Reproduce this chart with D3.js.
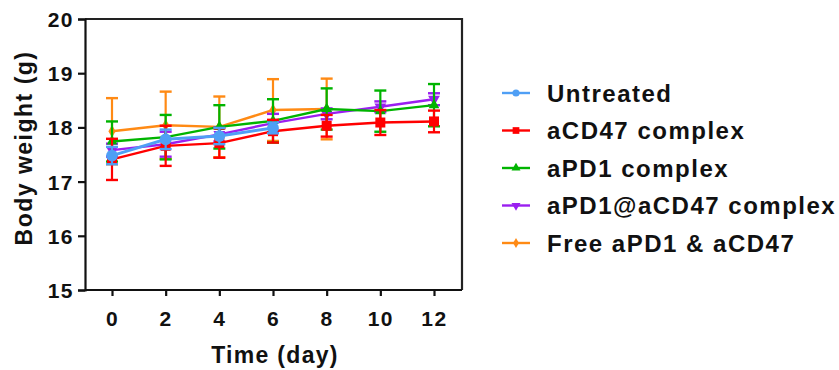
<!DOCTYPE html>
<html>
<head>
<meta charset="utf-8">
<script src="https://cdn.jsdelivr.net/npm/d3@7/dist/d3.min.js"></script>
<style>
  body { margin: 0; background: #fff; }
  text { font-family: "Liberation Sans", Arial, sans-serif; font-weight: bold; fill: #111; }
</style>
</head>
<body>
<div id="chart"></div>
<script>
// days measured
var days = [0, 2, 4, 6, 8, 10, 12];
var xTicks = [0, 2, 4, 6, 8, 10, 12];
var yTicks = [15, 16, 17, 18, 19, 20];

var seriesNames = ["Untreated", "aCD47 complex", "aPD1 complex", "aPD1@aCD47 complex", "Free aPD1 & aCD47"];
var seriesColors = ["#4f9ff5", "#ff0000", "#00b400", "#9a1ff0", "#ff8a14"];
var seriesShapes = ["circle", "square", "triangle", "down", "diamond"];

// means (null = no measurement)
var untreatedMean = [17.48, 17.78, 17.84, 17.99, null, null, null];
var acd47Mean     = [17.41, 17.66, 17.71, 17.93, 18.03, 18.09, 18.11];
var apd1Mean      = [17.74, 17.82, 18.01, 18.12, 18.34, 18.30, 18.41];
var bothMean      = [17.58, 17.69, 17.87, 18.08, 18.25, 18.38, 18.52];
var freeMean      = [17.93, 18.04, 18.01, 18.32, 18.34, null, null];

// error bars (SD)
var untreatedErr = [0.16, 0.18, 0.15, 0.10, null, null, null];
var acd47Err     = [0.38, 0.37, 0.27, 0.21, 0.20, 0.23, 0.20];
var apd1Err      = [0.37, 0.41, 0.40, 0.40, 0.38, 0.38, 0.39];
var bothErr      = [0.12, 0.23, 0.13, 0.17, 0.10, 0.10, 0.11];
var freeErr      = [0.61, 0.62, 0.56, 0.57, 0.56, null, null];

var means = [untreatedMean, acd47Mean, apd1Mean, bothMean, freeMean];
var errs = [untreatedErr, acd47Err, apd1Err, bothErr, freeErr];

var width = 839, height = 370;
var svg = d3.select("#chart").append("svg")
    .attr("width", width)
    .attr("height", height);

var pLeft = 85, pRight = 462, pTop = 19, pBottom = 290;

var x = d3.scaleLinear().domain([0, 12]).range([112, 434]);
var y = d3.scaleLinear().domain([15, 20]).range([pBottom, pTop]);

// frame (top and right lines)
svg.append("path")
    .attr("d", "M" + pLeft + "," + pTop + "H" + pRight + "V" + pBottom)
    .attr("fill", "none")
    .attr("stroke", "#222")
    .attr("stroke-width", 2.2);

// y axis
var yAxis = svg.append("g")
    .attr("transform", "translate(" + pLeft + ",0)")
    .call(d3.axisLeft(y).tickValues(yTicks).tickSize(7).tickPadding(4).tickFormat(d3.format("d")));
// x axis
var xAxis = svg.append("g")
    .attr("transform", "translate(0," + pBottom + ")")
    .call(d3.axisBottom(x).tickValues(xTicks).tickSize(6).tickPadding(15).tickFormat(d3.format("d")));
xAxis.select(".domain").attr("d", "M" + pLeft + ",0H" + pRight);

[yAxis, xAxis].forEach(function(a) {
    a.selectAll("path, line").attr("stroke", "#111").attr("stroke-width", 2.2);
    a.selectAll("text")
        .attr("font-family", "Liberation Sans, Arial, sans-serif")
        .attr("font-weight", "bold")
        .attr("font-size", "21px")
        .attr("letter-spacing", "1.5px")
        .attr("fill", "#111");
});
yAxis.selectAll("text").attr("dy", "0.36em");
xAxis.selectAll("text").attr("dy", "0.71em");

// axis titles
svg.append("text")
    .attr("x", 275)
    .attr("y", 363)
    .attr("text-anchor", "middle")
    .attr("font-size", "23px")
    .attr("letter-spacing", "1.3px")
    .text("Time (day)");

svg.append("text")
    .attr("transform", "translate(32,148) rotate(-90)")
    .attr("text-anchor", "middle")
    .attr("font-size", "23px")
    .attr("letter-spacing", "1.5px")
    .text("Body weight (g)");

function symbolFor(shape, big) {
    var t, s;
    if (shape === "circle") { t = d3.symbolCircle; s = big ? 110 : 40; }
    else if (shape === "square") { t = d3.symbolSquare; s = big ? 100 : 45; }
    else if (shape === "triangle") { t = d3.symbolTriangle; s = big ? 50 : 35; }
    else if (shape === "down") { t = d3.symbolTriangle; s = big ? 60 : 35; }
    else { t = d3.symbolDiamond; s = big ? 45 : 30; }
    return d3.symbol().type(t).size(s)();
}

var line = d3.line()
    .x(function(d) { return x(d.day); })
    .y(function(d) { return y(d.m); });

// draw from last series to first so untreated sits on top
for (var k = seriesNames.length - 1; k >= 0; k--) {
    var pts = days.map(function(d, i) { return { day: d, m: means[k][i], e: errs[k][i] }; })
        .filter(function(p) { return p.m !== null; });
    var col = seriesColors[k];
    var sw = k === 0 ? 3 : 2.4;
    var g = svg.append("g");

    g.append("path")
        .datum(pts)
        .attr("d", line)
        .attr("fill", "none")
        .attr("stroke", col)
        .attr("stroke-width", sw);

    var eb = g.selectAll(".eb").data(pts).enter().append("g");
    eb.append("line")
        .attr("x1", function(d) { return x(d.day); })
        .attr("x2", function(d) { return x(d.day); })
        .attr("y1", function(d) { return y(d.m - d.e); })
        .attr("y2", function(d) { return y(d.m + d.e); })
        .attr("stroke", col).attr("stroke-width", 2.2);
    [1, -1].forEach(function(sg) {
        eb.append("line")
            .attr("x1", function(d) { return x(d.day) - 6; })
            .attr("x2", function(d) { return x(d.day) + 6; })
            .attr("y1", function(d) { return y(d.m + sg * d.e); })
            .attr("y2", function(d) { return y(d.m + sg * d.e); })
            .attr("stroke", col).attr("stroke-width", 2.4);
    });

    var shape = seriesShapes[k];
    g.selectAll(".pt").data(pts).enter().append("path")
        .attr("d", symbolFor(shape, true))
        .attr("transform", function(d) {
            return "translate(" + x(d.day) + "," + y(d.m) + ")" + (shape === "down" ? " rotate(180)" : "");
        })
        .attr("fill", col);
}

// legend
var legend = svg.append("g");
seriesNames.forEach(function(name, i) {
    var ly = 93 + i * 37.5;
    var lg = legend.append("g").attr("transform", "translate(0," + ly + ")");
    lg.append("line")
        .attr("x1", 502).attr("x2", 530)
        .attr("stroke", seriesColors[i]).attr("stroke-width", 2.4);
    lg.append("path")
        .attr("d", symbolFor(seriesShapes[i], false))
        .attr("transform", "translate(516,0)" + (seriesShapes[i] === "down" ? " rotate(180)" : ""))
        .attr("fill", seriesColors[i]);
    lg.append("text")
        .attr("x", 547)
        .attr("dy", "0.36em")
        .attr("font-size", "24px")
        .attr("letter-spacing", "1.5px")
        .text(name);
});
</script>
</body>
</html>
